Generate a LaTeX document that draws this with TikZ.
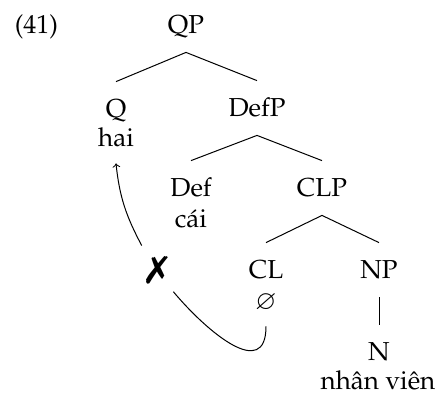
\documentclass[tikz,border=0pt]{standalone}
\usepackage[T1]{fontenc}
\usepackage{mathpazo}
\usepackage{amsmath, amssymb, pifont}
\usetikzlibrary{arrows, calc}

\tikzset{
  cat/.style={anchor=base, text height=8pt, text depth=0pt, inner xsep=0pt, inner ysep=9.5pt},
  wd/.style={anchor=base, text depth=0pt, inner xsep=0pt, inner ysep=8.5pt},
  br/.style={line width=0.5pt}
}

\begin{document}
\begin{tikzpicture}[x=0.5pt, y=-0.5pt]\fontsize{13}{15}\selectfont
	\useasboundingbox (0,0) rectangle (440,393);
	% labels of the tree
	\node[anchor=base] (ex) at (36.5,33) {(41)};
	\node[cat] (qp) at (186,33) {QP};
	\node[cat] (q) at (116,117) {Q};
	\node[wd] (hai) at (116,146) {hai};
	\node[cat] (defp) at (257,116) {DefP};
	\node[cat] (def) at (191,196) {Def};
	\node[wd] (cai) at (191,227) {c\'ai};
	\node[cat] (clp) at (322,196) {CLP};
	\node[cat] (cl) at (266,278) {CL};
	\node[wd] (null) at (266,309) {$\varnothing$};
	\node[cat] (np) at (379,278) {NP};
	\node[cat] (n) at (379,360) {N};
	\node[wd] (nv) at (378,389.5) {nh\^an vi\^en};
	\node[inner sep=0pt, minimum width=16pt, minimum height=24pt] (cross) at (157,270) {\fontsize{19}{19}\selectfont\ding{55}};
	% branches
	\draw[br] (qp.south) -- (q.north);
	\draw[br] (qp.south) -- (defp.north);
	\draw[br] (defp.south) -- (def.north);
	\draw[br] (defp.south) -- (clp.north);
	\draw[br] (clp.south) -- (cl.north);
	\draw[br] (clp.south) -- (np.north);
	\draw[br] (np.south) -- (n.north);
	% movement
	\draw[br, ->] (cross.122) to[out=118, in=-84] (hai.south);
	\draw[br] (null.south) to[out=-90, in=-50, looseness=1.4] (cross.-53);
\end{tikzpicture}
\end{document}
